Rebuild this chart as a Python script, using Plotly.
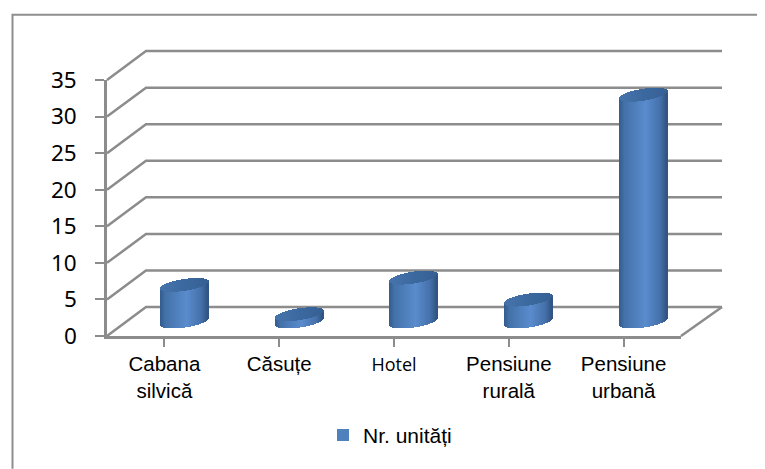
import numpy as np
import plotly.graph_objects as go

CATEGORIES = ["Cabana<br>silvică", "Căsuțe",
              "<span style=\"font-family:'Open Sans';font-size:18px\">Hotel</span>",
              "Pensiune<br>rurală", "Pensiune<br>urbană"]
VALUES = [5, 1, 6, 3, 31]
Y_TICKS = [0, 5, 10, 15, 20, 25, 30, 35]
SERIES_NAME = "Nr. unități"

W, H = 765, 469
PAGE = 8                # default body margin of the written page
L, R, T, B = 107, 681, 79.5, 336
GRAY = "#8C8C8C"
px_x = (R - L) / 5      # px per category
px_y = (B - T) / 35     # px per unit
DX, DY = 39.0, 29.0     # depth offset of back wall in px


def paper_x(p):
    return (p - L) / (R - L)


def paper_y(p):
    return (B - p) / (B - T)


def lerp_color(stops, t):
    xs = [s[0] for s in stops]
    return "rgb(%d,%d,%d)" % tuple(np.interp(t, xs, [s[1][i] for s in stops]) for i in range(3))


BODY = [(0, (52, 92, 142)), (0.12, (68, 114, 170)), (0.55, (90, 140, 206)),
        (0.85, (70, 114, 172)), (1, (48, 82, 128))]
CAP = [(0, (70, 116, 172)), (0.5, (60, 106, 160)), (1, (54, 96, 148))]

# cylinder geometry, in px, turned into data units
HALF_W, ELL_B, ELL_K = 24.0, 6.0, 3.5
n = 48
us = (np.arange(n) + 0.5) / n * 2 - 1
strip_w = 1.35 / px_x

bx, bbase, bh, bcol, bw = [], [], [], [], []
for i, v in enumerate(VALUES):
    cx = i + (DX / 2 + 0.5) / px_x
    base_mid = (DY / 2) / px_y
    for u in us:
        sq = np.sqrt(1 - u * u)
        x = cx + u * HALF_W / px_x
        tilt = u * ELL_K / px_y
        low = -sq * ELL_B / px_y + tilt
        up = sq * ELL_B / px_y + tilt
        bot = base_mid + low
        top_low = base_mid + v + low
        top_up = base_mid + v + up
        t = (u + 1) / 2
        bx += [x, x]
        bbase += [bot, top_low]
        bh += [top_low - bot, top_up - top_low]
        bcol += [lerp_color(BODY, t), lerp_color(CAP, t)]
        bw += [strip_w, strip_w]

fig = go.Figure()
fig.add_trace(go.Bar(x=bx, y=bh, base=bbase, width=bw, cliponaxis=False, showlegend=False,
                     marker=dict(color=bcol, line=dict(width=0)), hoverinfo="skip"))
fig.add_trace(go.Scatter(x=[None], y=[None], mode="markers", name=SERIES_NAME,
                         marker=dict(symbol="square", size=12, color="#4F81BD")))

shapes = []
line = dict(color=GRAY, width=2.5)
for v in Y_TICKS:
    yf = B - v * px_y
    shapes.append(dict(type="path", xref="paper", yref="paper", layer="below", line=line,
                       path="M %f %f L %f %f L %f %f" % (
                           paper_x(L), paper_y(yf), paper_x(L + DX), paper_y(yf - DY),
                           paper_x(R + DX + 2), paper_y(yf - DY))))
shapes.append(dict(type="line", xref="paper", yref="paper", layer="below", line=line,
                   x0=paper_x(R), y0=paper_y(B), x1=paper_x(R + DX + 2), y1=paper_y(B - DY)))
# chart frame: only its top and left edges fall inside the picture
shapes.append(dict(type="path", xref="paper", yref="paper", layer="below",
                   line=dict(color="#8E8E8E", width=2),
                   path="M %f %f L %f %f L %f %f" % (
                       paper_x(12.5), paper_y(H), paper_x(12.5), paper_y(14),
                       paper_x(W), paper_y(14))))

FIG_W, FIG_H = W - PAGE, H - PAGE
fig.update_layout(
    width=FIG_W, height=FIG_H, autosize=False,
    margin=dict(l=L - PAGE, r=W - R, t=T - PAGE, b=H - B),
    paper_bgcolor="white", plot_bgcolor="rgba(0,0,0,0)",
    shapes=shapes, bargap=0,
    font=dict(family="Liberation Sans", color="#000000", size=20),
    showlegend=True,
    legend=dict(x=paper_x(323), y=paper_y(456), xanchor="left", yanchor="bottom",
                bgcolor="rgba(0,0,0,0)", font=dict(size=21, family="Liberation Sans"),
                itemwidth=30, tracegroupgap=0),
    xaxis=dict(range=[-0.5, 4.5], tickmode="array", tickvals=list(range(5)),
               ticktext=CATEGORIES, showgrid=False, zeroline=False,
               showline=True, linecolor=GRAY, linewidth=2.5, ticks="outside",
               ticklen=8, tickwidth=2, tickcolor=GRAY, tickangle=0,
               tickfont=dict(family="Liberation Sans", size=20.5)),
    yaxis=dict(range=[0, 35], tickmode="array", tickvals=Y_TICKS, showgrid=False,
               zeroline=False, showline=True, linecolor=GRAY, linewidth=2.5,
               ticks="outside", ticklen=9, tickwidth=2, tickcolor=GRAY,
               ticklabelstandoff=14,
               tickfont=dict(family="Noto Sans", size=22.5)),
)
fig.write_html("out.html")
